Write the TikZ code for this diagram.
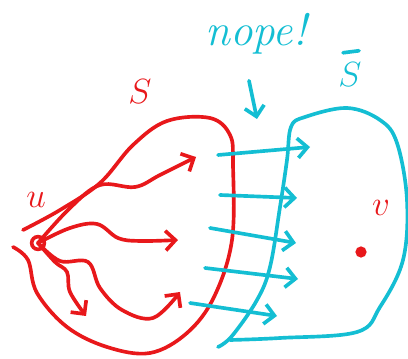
\documentclass[tikz,border=0pt]{standalone}
\usetikzlibrary{arrows.meta}
\definecolor{inkRed}{HTML}{E8181B}
\definecolor{inkCyan}{HTML}{14BED3}

\begin{document}
\begin{tikzpicture}[
  x=0.025cm, y=-0.025cm,
  ink/.style={line width=2.6pt, line cap=round, line join=round},
  redink/.style={ink, draw=inkRed},
  cyanink/.style={ink, draw=inkCyan},
  hop/.style={-{Straight Barb[length=7pt,width=14pt]}},
  lbl/.style={inner sep=0pt, font=\fontsize{34}{34}\selectfont}
]
\useasboundingbox (0,0) rectangle (408,359);

%  Set S 
\draw[redink] plot[smooth, tension=0.6] coordinates {
  (23,230) (60,210) (100,183) (133,145) (167,121) (210,118) (230,135)
  (233,165) (232,240) (214,297) (187,333) (150,353) (107,347) (67,327)
  (37,293) (28,260) (13,247)};
\node[lbl, text=inkRed] (setS) at (140,92) {$S$};

%  Complement 
\draw[cyanink] plot[smooth, tension=0.6] coordinates {
  (218,347) (232,336) (257,300) (270,267) (280,207) (287,160) (291,127)
  (305,117) (347,108) (380,120) (397,143) (407,200) (403,260) (380,307)
  (357,332) (280,338) (230,340)};
\node[lbl, text=inkCyan] (setSbar) at (350,75) {$S$};
\draw[cyanink] ([shift={(-7,-10)}]setSbar.north) -- ([shift={(9,-12)}]setSbar.north);

%  Vertices 
\node[circle, draw=inkRed, line width=2.6pt, minimum size=9pt, inner sep=0pt] (u) at (38,243) {};
\node[lbl, text=inkRed, font=\fontsize{28}{28}\selectfont] (ulabel) at (36,200) {$u$};
\node[circle, fill=inkRed, minimum size=8pt, inner sep=0pt] (v) at (361,252) {};
\node[lbl, text=inkRed, font=\fontsize{28}{28}\selectfont] (vlabel) at (381,208) {$v$};

%  Paths out of u 
\coordinate (r1) at (196,157);
\coordinate (r2) at (178,240);
\coordinate (r3) at (86,316);
\coordinate (r4) at (180,292);
\draw[redink, hop] plot[smooth, tension=0.6] coordinates {
  (u) (70,208) (100,185) (135,187) (160,175) (r1)};
\draw[redink, hop] plot[smooth, tension=0.6] coordinates {
  (u) (70,228) (97,224) (118,238) (140,241) (r2)};
\draw[redink, hop] plot[smooth, tension=0.6] coordinates {
  (u) (55,262) (67,272) (70,292) (r3)};
\draw[redink, hop] plot[smooth, tension=0.6] coordinates {
  (u) (60,261) (88,262) (100,288) (122,310) (153,318) (r4)};

%  Cut edges 
\foreach \i/\sx/\sy/\ex/\ey in {1/218/155/310/147, 2/220/195/297/198,
    3/210/228/296/243, 4/205/268/298/279, 5/190/303/277/316} {
  \coordinate (cut\i a) at (\sx,\sy);
  \coordinate (cut\i b) at (\ex,\ey);
  \draw[cyanink, hop] (cut\i a) -- (cut\i b);
}

%  Annotation 
\node[lbl, text=inkCyan, font=\fontsize{32}{32}\selectfont] (nope) at (256,34) {\itshape nope!};
\coordinate (gap) at (257,119);
\draw[cyanink, hop] ([shift={(-7,26)}]nope.south) -- (gap);

\end{tikzpicture}
\end{document}
